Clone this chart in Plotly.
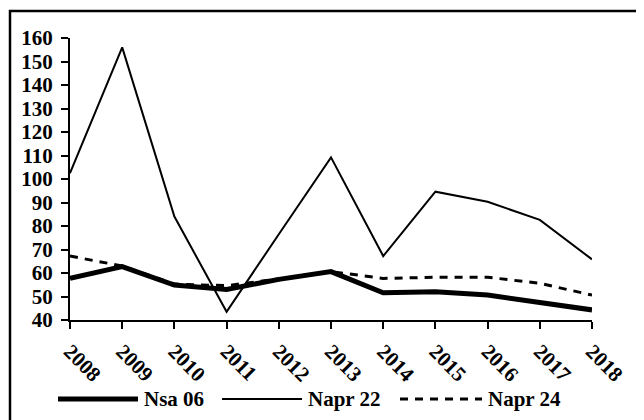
import plotly.graph_objects as go

# values
years = ["2008", "2009", "2010", "2011", "2012", "2013", "2014", "2015", "2016", "2017", "2018"]
nsa_06 = [57.7, 62.7, 54.9, 53.0, 57.3, 60.6, 51.6, 52.0, 50.6, 47.4, 44.3]
napr_22 = [102.5, 156.0, 84.0, 43.5, 76.5, 109.2, 67.2, 94.6, 90.3, 82.6, 65.8]
napr_24 = [67.2, 63.0, 55.3, 54.6, 57.5, 60.6, 57.7, 58.2, 58.2, 55.6, 50.6]

font_name = "Liberation Serif, Times New Roman, serif"
fnt = dict(family=font_name, size=21, color="black")

fig = go.Figure()
fig.add_trace(go.Scatter(x=years, y=napr_24, mode="lines", name="Napr 24",
                         line=dict(color="black", width=3, dash="8px,7px")))
fig.add_trace(go.Scatter(x=years, y=napr_22, mode="lines", name="Napr 22",
                         line=dict(color="black", width=2)))
fig.add_trace(go.Scatter(x=years, y=nsa_06, mode="lines", name="Nsa 06",
                         line=dict(color="black", width=5)))

# plot area spans px 62..584 horizontally, 30..312 vertically (figure coords)
def px_x(p):
    return (p - 62) / 522


def px_y(p):
    return (312 - p) / 282


shapes = [
    # outer frame (right / bottom edges fall off the page)
    dict(type="rect", xref="paper", yref="paper",
         x0=px_x(2), x1=px_x(700), y0=px_y(480), y1=px_y(3),
         line=dict(color="black", width=2.5), fillcolor="rgba(0,0,0,0)"),
]
annotations = []

# hand-drawn legend so the sample lines match the long Excel style ones
legend_items = [
    ("Nsa 06", 50, 130, 5, "solid"),
    ("Napr 22", 214, 294, 2, "solid"),
    ("Napr 24", 392, 474, 3, "8px,7px"),
]
for label, a, b, w, d in legend_items:
    shapes.append(dict(type="line", xref="paper", yref="paper",
                       x0=px_x(a), x1=px_x(b), y0=px_y(391), y1=px_y(391),
                       line=dict(color="black", width=w, dash=d)))
    annotations.append(dict(text="<b>%s</b>" % label, xref="paper", yref="paper",
                            x=px_x(b + 4), y=px_y(391), xanchor="left", yanchor="middle",
                            showarrow=False, font=fnt))

fig.update_layout(
    width=644, height=420,
    margin=dict(l=62, r=60, t=30, b=108),
    paper_bgcolor="white", plot_bgcolor="white",
    showlegend=False,
    shapes=shapes,
    annotations=annotations,
    font=fnt,
)
fig.update_xaxes(
    type="category", range=[0, 10],
    showline=True, linecolor="black", linewidth=2,
    ticks="outside", ticklen=7, tickwidth=2, tickcolor="black",
    tickangle=45, tickfont=dict(family=font_name, size=21, color="black", weight="bold"),
    ticklabelstandoff=2,
    showgrid=False, zeroline=False,
)
fig.update_yaxes(
    range=[40, 160], dtick=10,
    showline=True, linecolor="black", linewidth=2,
    ticks="outside", ticklen=7, tickwidth=2, tickcolor="black",
    tickfont=dict(family=font_name, size=21, color="black", weight="bold"),
    ticklabelstandoff=4,
    showgrid=False, zeroline=False,
)

fig.write_html("out.html")
